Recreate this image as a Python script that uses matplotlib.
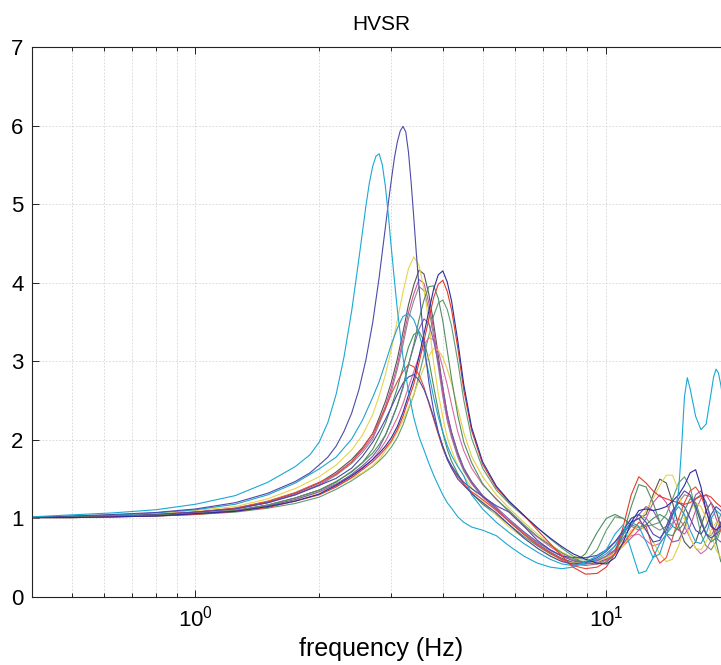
"""HVSR curves on a log frequency axis (static reproduction, Agg backend)."""

import matplotlib

matplotlib.use("Agg")
import matplotlib.pyplot as plt
from matplotlib.ticker import LogLocator, NullFormatter

plt.rcParams["font.family"] = ["Liberation Sans", "DejaVu Sans"]
plt.rcParams["mathtext.fontset"] = "custom"
plt.rcParams["mathtext.rm"] = "Liberation Sans"

# shared frequency grid (Hz)
freq = [0.4, 0.5, 0.63, 0.8, 1.0, 1.25, 1.5, 1.75,
        2.0, 2.2, 2.4, 2.55, 2.7, 2.8, 2.9, 3.0, 3.1, 3.2, 3.3, 3.4, 3.5, 3.6,
        3.7, 3.8, 3.9, 4.0, 4.1, 4.2, 4.35, 4.5, 4.7, 5.0,
        5.4, 5.8, 6.3, 6.8, 7.3, 7.8, 8.3, 8.9, 9.5, 10.0,
        10.5, 11.0, 11.5, 12.0, 12.5, 13.0, 13.5, 14.0, 14.5, 15.0, 15.5, 16.0,
        16.5, 17.0, 17.5, 18.0, 18.5, 19.0, 19.5, 20.0]

# the two tall peaks are read on a finer grid
freq_cyan = [0.4, 0.5, 0.63, 0.8, 1.0, 1.25, 1.5, 1.75,
             1.9, 2.0, 2.1, 2.2, 2.3, 2.4, 2.5, 2.6, 2.65, 2.7, 2.75, 2.8, 2.85, 2.9,
             2.95, 3.0, 3.05, 3.1,
             3.2, 3.3, 3.4, 3.5, 3.6, 3.7, 3.8, 3.9, 4.0, 4.1, 4.2, 4.35, 4.5, 4.7, 5.0,
             5.4, 5.8, 6.3, 6.8, 7.3, 7.8, 8.3, 8.9, 9.5, 10.0,
             10.5, 11.0, 11.5, 12.0, 12.5, 13.0, 13.5, 14.0, 14.5, 15.0, 15.25, 15.5,
             15.75, 16.0, 16.5, 17.0, 17.5, 18.0, 18.25, 18.5, 18.75, 19.0, 19.5, 20.0]
freq_indigo = [0.4, 0.5, 0.63, 0.8, 1.0, 1.25, 1.5, 1.75,
               1.9, 2.0, 2.1, 2.2, 2.3, 2.4, 2.5, 2.6, 2.7, 2.8, 2.9,
               2.95, 3.0, 3.05, 3.1, 3.15, 3.2, 3.25, 3.3, 3.35, 3.4, 3.45, 3.5,
               3.6, 3.7, 3.8, 3.9, 4.0, 4.1, 4.2, 4.35, 4.5, 4.7, 5.0,
               5.4, 5.8, 6.3, 6.8, 7.3, 7.8, 8.3, 8.9, 9.5, 10.0,
               10.5, 11.0, 11.5, 12.0, 12.5, 13.0, 13.5, 14.0, 14.5, 15.0, 15.5, 16.0,
               16.5, 17.0, 17.5, 18.0, 18.5, 19.0, 19.5, 20.0]

# H/V spectral ratio per station
hv_cyan = [1.02, 1.045, 1.07, 1.11, 1.18, 1.29, 1.46, 1.66,
           1.81, 1.97, 2.22, 2.58, 3.06, 3.64, 4.31, 4.98, 5.27, 5.48, 5.61, 5.64, 5.5, 5.22,
           4.84, 4.42, 4.03, 3.66,
           3.05, 2.61, 2.28, 2.04, 1.87, 1.7, 1.55, 1.42, 1.3, 1.2, 1.13, 1.02, 0.95, 0.89, 0.85,
           0.78, 0.65, 0.52, 0.43, 0.38, 0.36, 0.38, 0.45, 0.52, 0.6,
           0.8, 0.92, 0.6, 0.3, 0.33, 0.5, 0.68, 0.8, 0.9, 1.35, 1.9, 2.55,
           2.79, 2.65, 2.3, 2.13, 2.2, 2.6, 2.8, 2.9, 2.85, 2.7, 2.3, 1.9]
hv_indigo = [1.014, 1.03, 1.05, 1.075, 1.12, 1.2, 1.32, 1.47,
             1.58, 1.68, 1.78, 1.92, 2.11, 2.34, 2.64, 3.02, 3.49, 4.07, 4.71,
             5.03, 5.32, 5.59, 5.79, 5.93, 5.99, 5.92, 5.66, 5.27, 4.82, 4.36, 3.95,
             3.24, 2.73, 2.37, 2.1, 1.91, 1.75, 1.64, 1.5, 1.42, 1.32, 1.2,
             1.07, 0.92, 0.75, 0.62, 0.52, 0.45, 0.42, 0.44, 0.5, 0.58,
             0.7, 0.85, 1.0, 1.05, 0.95, 0.8, 0.75, 0.85, 1.05, 1.25, 1.35, 1.3,
             1.15, 0.95, 0.8, 0.75, 0.8, 0.95, 1.05, 1.1]
hv_yellow = [1.01, 1.02, 1.04, 1.06, 1.1, 1.15, 1.25, 1.38,
             1.53, 1.68, 1.87, 2.06, 2.32, 2.56, 2.83, 3.16, 3.52, 3.88, 4.18, 4.33, 4.22, 3.92,
             3.49, 2.98, 2.59, 2.29, 2.03, 1.87, 1.67, 1.54, 1.39, 1.22,
             1.04, 0.89, 0.75, 0.62, 0.53, 0.46, 0.43, 0.43, 0.45, 0.5,
             0.55, 0.65, 0.8, 0.95, 1.1, 1.25, 1.42, 1.55, 1.55, 1.35, 1.0, 0.75,
             0.62, 0.6, 0.7, 0.85, 0.95, 0.9, 0.8, 0.75]
hv_darkgray = [1.01, 1.02, 1.03, 1.05, 1.08, 1.13, 1.21, 1.32,
               1.45, 1.59, 1.75, 1.9, 2.08, 2.28, 2.49, 2.74, 3.03, 3.37, 3.72, 3.97, 4.16, 4.11,
               3.85, 3.48, 3.07, 2.66, 2.33, 2.1, 1.84, 1.64, 1.47, 1.29,
               1.12, 0.96, 0.8, 0.67, 0.57, 0.49, 0.44, 0.42, 0.44, 0.48,
               0.6, 0.8, 0.95, 1.0, 1.05, 1.3, 1.5, 1.45, 1.2, 0.9, 0.7, 0.62,
               0.7, 0.9, 1.1, 1.2, 1.1, 0.9, 0.75, 0.7]
hv_pink = [1.01, 1.02, 1.03, 1.05, 1.08, 1.12, 1.2, 1.31,
           1.43, 1.57, 1.72, 1.87, 2.04, 2.23, 2.43, 2.67, 2.95, 3.28, 3.62, 3.86, 4.04, 3.99,
           3.74, 3.39, 2.99, 2.6, 2.28, 2.06, 1.81, 1.62, 1.45, 1.28,
           1.12, 0.96, 0.8, 0.66, 0.56, 0.48, 0.42, 0.4, 0.42, 0.47,
           0.55, 0.65, 0.75, 0.85, 1.0, 1.2, 1.3, 1.2, 1.0, 0.85, 0.8, 0.9,
           1.1, 1.25, 1.3, 1.2, 1.0, 0.85, 0.8, 0.85]
hv_gray = [1.01, 1.02, 1.03, 1.05, 1.08, 1.12, 1.2, 1.3,
           1.42, 1.55, 1.7, 1.84, 2.01, 2.2, 2.39, 2.62, 2.9, 3.21, 3.54, 3.77, 3.95, 3.9,
           3.66, 3.32, 2.93, 2.55, 2.24, 2.03, 1.78, 1.6, 1.44, 1.27,
           1.11, 0.97, 0.82, 0.69, 0.59, 0.52, 0.47, 0.45, 0.47, 0.52,
           0.65, 0.85, 1.0, 1.05, 1.0, 0.9, 0.85, 0.9, 1.05, 1.2, 1.3, 1.28,
           1.15, 0.95, 0.8, 0.78, 0.9, 1.05, 1.1, 1.05]
hv_green = [1.01, 1.02, 1.03, 1.04, 1.06, 1.1, 1.17, 1.26,
            1.36, 1.46, 1.6, 1.71, 1.83, 1.94, 2.06, 2.24, 2.44, 2.66, 2.95, 3.22, 3.53, 3.78,
            3.95, 3.96, 3.8, 3.51, 3.14, 2.78, 2.31, 1.97, 1.71, 1.44,
            1.24, 1.1, 0.92, 0.77, 0.66, 0.56, 0.49, 0.43, 0.42, 0.44,
            0.55, 0.8, 1.15, 1.43, 1.4, 1.2, 0.95, 0.8, 0.78, 0.9, 1.1, 1.25,
            1.2, 1.0, 0.8, 0.7, 0.75, 0.9, 1.0, 1.0]
hv_navy = [1.01, 1.01, 1.02, 1.03, 1.06, 1.09, 1.15, 1.22,
           1.31, 1.42, 1.54, 1.64, 1.75, 1.83, 1.92, 2.03, 2.17, 2.35, 2.57, 2.78, 3.06, 3.35,
           3.64, 3.92, 4.1, 4.15, 4.01, 3.77, 3.26, 2.7, 2.16, 1.72,
           1.41, 1.22, 1.04, 0.88, 0.75, 0.64, 0.55, 0.48, 0.43, 0.42,
           0.5, 0.7, 0.95, 1.1, 1.12, 1.1, 1.12, 1.15, 1.22, 1.3, 1.42, 1.58,
           1.62, 1.4, 1.1, 0.9, 0.85, 0.9, 1.0, 1.05]
hv_red = [1.01, 1.01, 1.02, 1.03, 1.05, 1.09, 1.14, 1.22,
          1.3, 1.4, 1.52, 1.62, 1.72, 1.8, 1.89, 1.99, 2.13, 2.3, 2.51, 2.71, 2.98, 3.26,
          3.54, 3.81, 3.98, 4.03, 3.89, 3.66, 3.17, 2.63, 2.12, 1.69,
          1.39, 1.21, 1.04, 0.85, 0.68, 0.52, 0.38, 0.29, 0.3, 0.38,
          0.55, 0.9, 1.3, 1.53, 1.45, 1.35, 1.28, 1.25, 1.22, 1.2, 1.18, 1.2,
          1.25, 1.28, 1.3, 1.27, 1.2, 1.15, 1.2, 1.3]
hv_green2 = [1.01, 1.01, 1.02, 1.03, 1.05, 1.08, 1.13, 1.19,
             1.27, 1.37, 1.48, 1.57, 1.66, 1.73, 1.81, 1.91, 2.03, 2.19, 2.39, 2.57, 2.82, 3.08,
             3.33, 3.58, 3.74, 3.78, 3.66, 3.45, 3.0, 2.5, 2.02, 1.64,
             1.36, 1.19, 1.03, 0.88, 0.74, 0.62, 0.52, 0.47, 0.6, 0.85,
             1.02, 1.0, 0.9, 0.85, 0.9, 0.92, 0.95, 1.05, 1.25, 1.45, 1.53, 1.4,
             1.1, 0.8, 0.65, 0.6, 0.7, 0.85, 0.9, 0.85]
hv_cyan2 = [1.01, 1.03, 1.04, 1.07, 1.11, 1.18, 1.3, 1.45,
            1.63, 1.78, 2.01, 2.25, 2.54, 2.74, 2.98, 3.22, 3.42, 3.57, 3.61, 3.53, 3.35, 3.12,
            2.84, 2.54, 2.29, 2.1, 1.93, 1.8, 1.66, 1.54, 1.3, 1.12,
            0.95, 0.82, 0.68, 0.57, 0.48, 0.42, 0.4, 0.42, 0.48, 0.55,
            0.65, 0.8, 0.95, 0.9, 0.7, 0.5, 0.55, 0.8, 1.05, 1.15, 1.05, 0.85,
            0.7, 0.68, 0.8, 1.0, 1.1, 1.05, 0.9, 0.8]
hv_red2 = [1.01, 1.02, 1.03, 1.05, 1.08, 1.13, 1.22, 1.33,
           1.46, 1.56, 1.72, 1.89, 2.08, 2.24, 2.4, 2.59, 2.74, 2.87, 2.96, 2.93, 2.83, 2.67,
           2.46, 2.26, 2.07, 1.89, 1.76, 1.65, 1.53, 1.44, 1.34, 1.24,
           1.1, 0.96, 0.8, 0.67, 0.56, 0.47, 0.4, 0.36, 0.38, 0.45,
           0.55, 0.68, 0.82, 0.95, 0.9, 0.6, 0.43, 0.5, 0.75, 1.0, 1.2, 1.35,
           1.4, 1.3, 1.1, 0.9, 0.8, 0.85, 1.0, 1.15]
hv_indigo3 = [1.01, 1.02, 1.03, 1.05, 1.08, 1.12, 1.2, 1.3,
              1.42, 1.51, 1.64, 1.79, 1.97, 2.11, 2.26, 2.42, 2.58, 2.72, 2.8, 2.83, 2.76, 2.64,
              2.48, 2.29, 2.09, 1.92, 1.77, 1.67, 1.55, 1.46, 1.38, 1.28,
              1.16, 1.08, 0.9, 0.72, 0.6, 0.52, 0.5, 0.5, 0.53, 0.6,
              0.7, 0.82, 0.95, 1.0, 0.85, 0.7, 0.72, 0.9, 1.1, 1.2, 1.15, 1.0,
              0.85, 0.8, 0.9, 1.05, 1.15, 1.1, 1.0, 0.95]
hv_yellow2 = [1.01, 1.01, 1.02, 1.04, 1.06, 1.1, 1.16, 1.24,
              1.33, 1.41, 1.51, 1.58, 1.67, 1.75, 1.86, 1.97, 2.1, 2.25, 2.41, 2.58, 2.76, 2.92,
              3.07, 3.16, 3.14, 3.05, 2.9, 2.72, 2.4, 2.09, 1.79, 1.53,
              1.3, 1.13, 0.95, 0.8, 0.67, 0.57, 0.5, 0.47, 0.48, 0.52,
              0.6, 0.72, 0.85, 0.9, 0.85, 0.7, 0.55, 0.45, 0.48, 0.65, 0.9, 1.1,
              1.2, 1.15, 1.0, 0.8, 0.6, 0.5, 0.55, 0.7]
hv_pink2 = [1.01, 1.02, 1.03, 1.04, 1.06, 1.1, 1.17, 1.26,
            1.36, 1.44, 1.55, 1.65, 1.75, 1.86, 1.98, 2.13, 2.28, 2.46, 2.67, 2.87, 3.06, 3.21,
            3.3, 3.27, 3.13, 2.92, 2.7, 2.45, 2.1, 1.86, 1.64, 1.43,
            1.25, 1.08, 0.9, 0.76, 0.64, 0.54, 0.47, 0.43, 0.44, 0.5,
            0.58, 0.68, 0.78, 0.8, 0.72, 0.65, 0.68, 0.8, 0.95, 1.0, 0.9, 0.75,
            0.62, 0.55, 0.6, 0.72, 0.85, 0.95, 1.0, 0.95]
hv_purple = [1.01, 1.02, 1.02, 1.04, 1.06, 1.1, 1.16, 1.24,
             1.34, 1.43, 1.56, 1.67, 1.79, 1.9, 2.06, 2.25, 2.44, 2.68, 2.96, 3.19, 3.41, 3.54,
             3.48, 3.26, 2.98, 2.66, 2.33, 2.09, 1.82, 1.63, 1.46, 1.29,
             1.14, 0.99, 0.83, 0.7, 0.6, 0.52, 0.46, 0.44, 0.46, 0.52,
             0.6, 0.75, 0.9, 1.05, 1.15, 1.1, 0.95, 0.8, 0.7, 0.72, 0.88, 1.1,
             1.3, 1.35, 1.2, 0.95, 0.75, 0.7, 0.8, 0.95]
hv_green3 = [1.01, 1.02, 1.03, 1.04, 1.06, 1.1, 1.17, 1.26,
             1.36, 1.47, 1.59, 1.71, 1.88, 2.04, 2.21, 2.43, 2.66, 2.92, 3.18, 3.34, 3.38, 3.26,
             3.01, 2.68, 2.37, 2.09, 1.88, 1.73, 1.57, 1.43, 1.32, 1.18,
             1.05, 0.92, 0.77, 0.65, 0.55, 0.48, 0.43, 0.55, 0.82, 1.0,
             1.05, 1.0, 0.92, 0.88, 0.92, 1.0, 1.05, 1.0, 0.9, 0.85, 0.95, 1.1,
             1.25, 1.3, 1.2, 1.0, 0.7, 0.45, 0.4, 0.5]

curves = [
    (freq, hv_gray, "#8c8c8c"),
    (freq, hv_darkgray, "#555555"),
    (freq, hv_green3, "#4c8a5e"),
    (freq, hv_green2, "#5e9c72"),
    (freq, hv_pink2, "#d86ba8"),
    (freq, hv_pink, "#d2529b"),
    (freq, hv_yellow2, "#e5cd45"),
    (freq, hv_yellow, "#e8d44d"),
    (freq, hv_purple, "#7d5cb5"),
    (freq, hv_red2, "#e54b3c"),
    (freq, hv_indigo3, "#4a4aaa"),
    (freq, hv_cyan2, "#23a2cf"),
    (freq, hv_green, "#4f8f63"),
    (freq, hv_red, "#e8392b"),
    (freq, hv_navy, "#2b2b9b"),
    (freq_indigo, hv_indigo, "#4b4ba8"),
    (freq_cyan, hv_cyan, "#1ba8d4"),
]

fig = plt.figure(figsize=(7.21, 6.65), dpi=100)
ax = fig.add_axes([0.0444, 0.1023, 0.968, 0.8271])

for f, values, color in curves:
    ax.plot(f, values, color=color, linewidth=0.8)

ax.set_xscale("log")
ax.set_xlim(0.4, 20)
ax.set_ylim(0, 7)
ax.set_yticks(range(0, 8))
ax.xaxis.set_major_locator(LogLocator(base=10))
ax.xaxis.set_minor_locator(LogLocator(base=10, subs=range(2, 10)))
ax.xaxis.set_minor_formatter(NullFormatter())

ax.grid(True, which="major", color="#d4d4d4", linestyle=(0, (2, 2)), linewidth=0.6)
ax.grid(True, which="minor", axis="x", color="#d4d4d4", linestyle=(0, (2, 2)), linewidth=0.6)
ax.tick_params(which="both", direction="in", top=True, right=True, width=0.6)
ax.tick_params(which="major", length=5, labelsize=16, pad=6)
ax.tick_params(which="minor", length=3)
for side in ax.spines.values():
    side.set_linewidth(0.8)
    side.set_color("#222222")

ax.set_title("HVSR", fontsize=15, pad=12)
ax.set_xlabel("frequency (Hz)", fontsize=18, labelpad=4)

fig.savefig("out.png", dpi=100)
plt.close(fig)
